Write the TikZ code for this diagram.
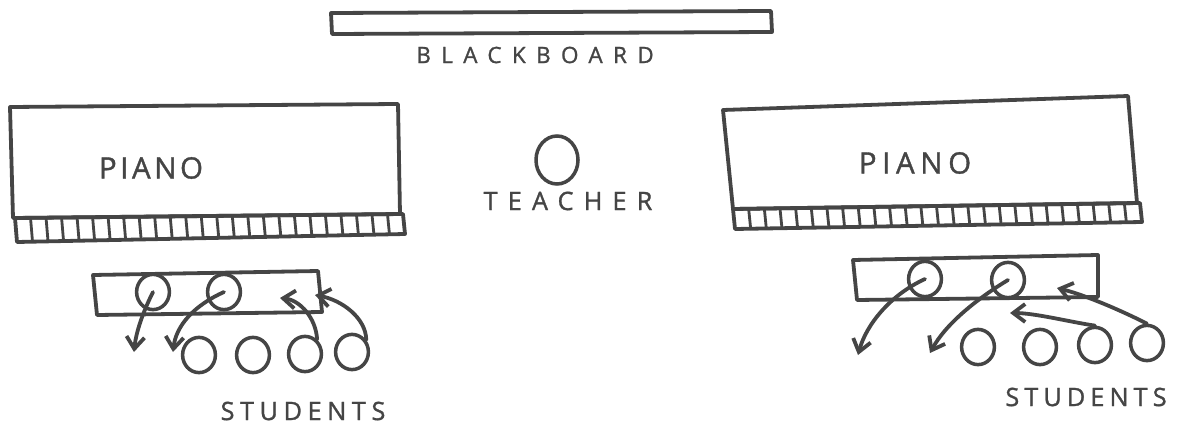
\documentclass[tikz,border=0pt]{standalone}
\usepackage{fontspec}
\newfontfamily\handfont[FakeBold=1.2]{Open Sans}
\usetikzlibrary{shapes.geometric,arrows.meta,calc}
\definecolor{ink}{HTML}{454545}

\begin{document}
\begin{tikzpicture}[
  x=0.025cm, y=-0.025cm,
  line width=2.7pt, draw=ink, line join=round, line cap=round,
  person/.style={
    ellipse,
    draw=ink,
    line width=2.5pt,
    inner sep=0pt,
    minimum width=0.82cm,
    minimum height=0.88cm
  },
  label/.style={text=ink, inner sep=0pt, font=\handfont},
  move/.style={->, >={Straight Barb[length=3mm,width=4.5mm]}}
]
  \useasboundingbox (0,0) rectangle (1194,426);

  % blackboard
  \draw (331,13) -- (771,11) -- (772,32) -- (332,34) -- cycle;
  \node[label,font=\handfont\fontsize{16}{16}\selectfont\addfontfeatures{LetterSpace=46}] (board) at (535,55) {BLACKBOARD};

  % left piano
  \draw (10,107) -- (398,104) -- (400,214) -- (13,218) -- cycle;
  \draw (15,218) -- (403,214) -- (405,234) -- (17,242) -- cycle;
  \foreach \t in {1,...,24}
    \draw[line width=2pt] ($(15,218)!\t/25!(403,214)$) -- ($(17,242)!\t/25!(405,234)$);
  \node[label,font=\handfont\fontsize{21}{21}\selectfont\addfontfeatures{LetterSpace=12}] (pianoL) at (151,168) {PIANO};

  % teacher
  \node[person,minimum width=1.05cm,minimum height=1.2cm] (teacher) at (557,160) {};
  \node[label,font=\handfont\fontsize{18}{18}\selectfont\addfontfeatures{LetterSpace=40}] (teach) at (568,201) {TEACHER};

  % right piano
  \draw (723,110) -- (1128,96) -- (1137,203) -- (733,209) -- cycle;
  \draw (733,209) -- (1140,203) -- (1142,222) -- (735,229) -- cycle;
  \foreach \t in {1,...,25}
    \draw[line width=2pt] ($(733,209)!\t/26!(1140,203)$) -- ($(735,229)!\t/26!(1142,222)$);
  \node[label,font=\handfont\fontsize{21}{21}\selectfont\addfontfeatures{LetterSpace=19}] (pianoR) at (915,163) {PIANO};

  % left bench and students
  \draw (93,275) -- (318,271) -- (322,312) -- (97,315) -- cycle;
  \node[person] (bL1) at (153,292) {};
  \node[person] (bL2) at (224,292) {};
  \node[person] (sL1) at (199,355) {};
  \node[person] (sL2) at (253,355) {};
  \node[person] (sL3) at (305,354) {};
  \node[person] (sL4) at (352,352) {};
  \coordinate (tL1) at (134,352);
  \coordinate (tL2) at (173,352);
  \coordinate (tL3) at (280,298);
  \coordinate (tL4) at (315,295);
  \draw[move] (bL1.center) .. controls (143,312) and (136,332) .. (tL1);
  \draw[move] (bL2.center) .. controls (195,305) and (176,325) .. (tL2);
  \draw[move] (sL3.50) .. controls (316,318) and (300,300) .. (tL3);
  \draw[move] (sL4.40) .. controls (366,318) and (342,300) .. (tL4);
  \node[label,font=\handfont\fontsize{18}{18}\selectfont\addfontfeatures{LetterSpace=22}] (studL) at (303,411) {STUDENTS};

  % right bench and students
  \draw (853,260) -- (1098,255) -- (1098,297) -- (857,300) -- cycle;
  \node[person] (bR1) at (925,279) {};
  \node[person] (bR2) at (1008,280) {};
  \node[person] (sR1) at (978,347) {};
  \node[person] (sR2) at (1040,347) {};
  \node[person] (sR3) at (1095,345) {};
  \node[person] (sR4) at (1147,343) {};
  \coordinate (tR1) at (858,355);
  \coordinate (tR2) at (930,353);
  \coordinate (tR3) at (1010,313);
  \coordinate (tR4) at (1057,288);
  \draw[move] (bR1.center) .. controls (890,295) and (866,325) .. (tR1);
  \draw[move] (bR2.center) .. controls (975,300) and (945,325) .. (tR2);
  \draw[move] (sR3.north) .. controls (1070,322) and (1035,313) .. (tR3);
  \draw[move] (sR4.north) .. controls (1120,310) and (1085,295) .. (tR4);
  \node[label,font=\handfont\fontsize{18}{18}\selectfont\addfontfeatures{LetterSpace=20}] (studR) at (1086,397) {STUDENTS};
\end{tikzpicture}
\end{document}
